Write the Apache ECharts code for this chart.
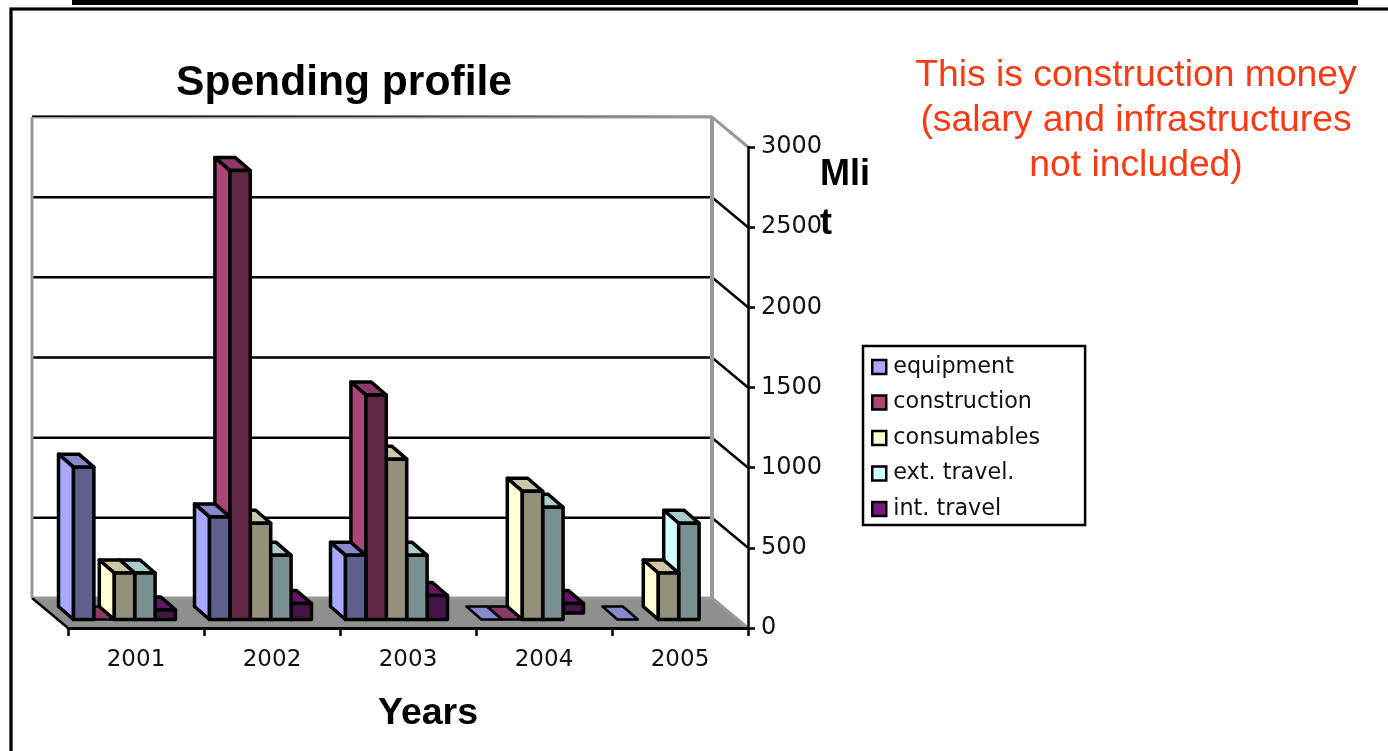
<!DOCTYPE html>
<html>
<head>
<meta charset="utf-8">
<title>Spending profile</title>
<script src="https://cdn.jsdelivr.net/npm/echarts@6/dist/echarts.min.js"></script>
<style>
	html, body { margin: 0; padding: 0; background: #fff; }
	#main { width: 1388px; height: 751px; }
</style>
</head>
<body>
<div id="main"></div>
<script>
const years = ['2001', '2002', '2003', '2004', '2005'];
const seriesNames = ['equipment', 'construction', 'consumables', 'ext. travel.', 'int. travel'];
const equipment = [950, 640, 400, 0, 0];
const construction = [0, 2800, 1400, 0, null];
const consumables = [290, 600, 1000, 800, 290];
const extTravel = [290, 400, 400, 700, 600];
const intTravel = [60, 100, 150, 100, null];
// the 2004 int. travel block floats above the floor in the picture
const intTravelBase = [0, 0, 0, 40, 0];
const yTicks = [0, 500, 1000, 1500, 2000, 2500, 3000];

const sideColors = ['#a8a8ff', '#ac4678', '#ffffd4', '#d4ffff', '#7a1a7a'];
const frontColors = ['#5e6090', '#612845', '#929078', '#7a9090', '#441448'];
const topColors = ['#8888cc', '#8a3a68', '#ccc8a8', '#a8cccc', '#661466'];

// oblique projection: wall depth and bar depth, in pixels
const wallDepth = [36, 30];
const barDepth = [15, 13];
const barInset = [11.5, 8.5];
const barShare = 0.15;

function barRender(index) {
	return function(params, api) {
		let cat = api.value(0);
		let y0 = api.coord([cat, api.value(2)])[1];
		let y1 = api.coord([cat, api.value(1)])[1];
		let band = api.size([1, 0])[0];
		let w = band * barShare;
		let x = api.coord([cat, 0])[0] - barInset[0] - 2.5 * w + index * w;
		let bottom = y0 - barInset[1];
		let top = y1 - barInset[1];
		let dx = barDepth[0], dy = barDepth[1];
		let flat = api.value(1) === 0;
		let line = { stroke: '#000', lineWidth: flat ? 2.5 : 3.5, lineJoin: 'round' };
		let z2 = flat ? 0 : 10;
		let children = [{
			type: 'polygon',
			z2: z2,
			shape: { points: [[x, top], [x + w, top], [x + w - dx, top - dy], [x - dx, top - dy]] },
			style: Object.assign({ fill: topColors[index] }, line)
		}];
		if (!flat) {
			children.push({
				type: 'polygon',
				z2: z2,
				shape: { points: [[x, top], [x - dx, top - dy], [x - dx, bottom - dy], [x, bottom]] },
				style: Object.assign({ fill: sideColors[index] }, line)
			}, {
				type: 'rect',
				z2: z2,
				shape: { x: x, y: top, width: w, height: bottom - top },
				style: Object.assign({ fill: frontColors[index] }, line)
			});
		}
		return { type: 'group', children: children };
	};
}

function barSeries(index, values, bases) {
	let data = [];
	values.forEach(function(v, i) {
		if (v !== null) data.push([i, v, bases ? bases[i] : 0]);
	});
	return {
		name: seriesNames[index],
		type: 'custom',
		z: 2,
		clip: false,
		coordinateSystem: 'cartesian2d',
		encode: { x: 0, y: 1 },
		itemStyle: { color: sideColors[index] },
		renderItem: barRender(index),
		data: data
	};
}

function frameRender(params, api) {
	let rect = params.coordSys;
	let left = rect.x, right = rect.x + rect.width;
	let dx = wallDepth[0], dy = wallDepth[1];
	let v = api.value(0);
	let y = api.coord([0, v])[1];
	let edge = (v === 0 || v === 3000);
	let color = edge ? '#999' : '#000';
	let children = [];
	if (v === 0) {
		let topY = api.coord([0, 3000])[1];
		children.push({
			type: 'polygon',
			z2: 0,
			shape: { points: [[left, y], [right, y], [right - dx, y - dy], [left - dx, y - dy]] },
			style: { fill: '#8f8f8f' }
		}, {
			type: 'polyline',
			z2: 2,
			shape: { points: [[left, y], [left - dx, y - dy]] },
			style: { stroke: '#000', lineWidth: 2.5, fill: null }
		}, {
			type: 'polyline',
			z2: 2,
			shape: { points: [[left - dx, y - dy], [left - dx, topY - dy]] },
			style: { stroke: '#999', lineWidth: 3, fill: null }
		}, {
			type: 'polyline',
			z2: 2,
			shape: { points: [[right - dx, y - dy], [right - dx, topY - dy]] },
			style: { stroke: '#999', lineWidth: 4, fill: null }
		});
	}
	children.push({
		type: 'polyline',
		z2: 1,
		shape: { points: [[left - dx, y - dy], [right - dx, y - dy], [right, y]] },
		style: { stroke: color, lineWidth: edge ? 3 : 2.5, fill: null }
	});
	if (v === 3000) {
		// dark rim along the wall top, fading out to the right
		children.push({
			type: 'rect',
			z2: 2,
			shape: { x: left - dx, y: y - dy - 1.5, width: right - left, height: 1.5 },
			style: {
				fill: new echarts.graphic.LinearGradient(0, 0, 1, 0, [
					{ offset: 0, color: '#000' },
					{ offset: 0.5, color: '#333' },
					{ offset: 1, color: '#999' }
				])
			}
		});
	}
	return { type: 'group', children: children };
}

let myChart = echarts.init(document.getElementById('main'));
let option = {
	animation: false,
	backgroundColor: '#fff',
	textStyle: { fontFamily: 'DejaVu Sans' },
	title: [{
		text: 'Spending profile',
		left: 339,
		top: 78,
		textAlign: 'center',
		textVerticalAlign: 'middle',
		textStyle: { fontFamily: 'Liberation Sans', fontSize: 42.6, fontWeight: 'bold', color: '#000' }
	}, {
		text: 'Years',
		left: 423,
		top: 709,
		textAlign: 'center',
		textVerticalAlign: 'middle',
		textStyle: { fontFamily: 'Liberation Sans', fontSize: 37.5, fontWeight: 'bold', color: '#000' }
	}, {
		text: 'Mli\nt',
		left: 815,
		top: 146,
		textStyle: { fontFamily: 'Liberation Sans', fontSize: 36, fontWeight: 'bold', color: '#000', lineHeight: 49 }
	}, {
		text: 'This is construction money\n(salary and infrastructures\nnot included)',
		left: 1131,
		top: 116,
		textAlign: 'center',
		textVerticalAlign: 'middle',
		textStyle: { fontFamily: 'Liberation Sans', fontSize: 37.3, fontWeight: 'normal', color: '#f93a12', lineHeight: 45, align: 'center' }
	}],
	legend: {
		data: seriesNames,
		orient: 'vertical',
		left: 863,
		top: 346,
		backgroundColor: '#fff',
		borderColor: '#000',
		borderWidth: 2.5,
		padding: [10, 45, 5, 8],
		itemGap: 13.5,
		itemWidth: 14,
		itemHeight: 14,
		icon: 'rect',
		itemStyle: { borderColor: '#000', borderWidth: 2.5 },
		textStyle: { fontFamily: 'DejaVu Sans', fontSize: 22.3, color: '#111', padding: [0, 0, 0, 2], height: 22, lineHeight: 22 },
		selectedMode: false
	},
	grid: { left: 68, top: 147, width: 680, height: 481 },
	xAxis: {
		type: 'category',
		data: years,
		z: 5,
		axisLine: { lineStyle: { color: '#000', width: 3 } },
		axisTick: { show: true, length: 8, lineStyle: { color: '#000', width: 2.5 } },
		axisLabel: { interval: 0, margin: 21, fontFamily: 'DejaVu Sans', fontSize: 23, color: '#111' },
		splitLine: { show: false }
	},
	yAxis: {
		type: 'value',
		position: 'right',
		min: 0,
		max: 3000,
		interval: 500,
		z: 5,
		axisLine: { show: true, lineStyle: { color: '#000', width: 2.5 } },
		axisTick: { show: true, length: 7, lineStyle: { color: '#000', width: 2.5 } },
		axisLabel: {
			margin: 13,
			padding: [8, 0, 0, 0],
			fontFamily: 'DejaVu Sans',
			fontSize: 24,
			color: '#111',
			formatter: function(v) { return String(v); }
		},
		splitLine: { show: false }
	},
	graphic: [{
		type: 'rect',
		z: 0,
		silent: true,
		shape: { x: 72, y: -4, width: 1286, height: 9 },
		style: { fill: '#000' }
	}, {
		type: 'rect',
		z: 0,
		silent: true,
		shape: { x: 11, y: 9, width: 1390, height: 760 },
		style: { fill: 'none', stroke: '#000', lineWidth: 3, shadowColor: '#999', shadowBlur: 1 }
	}],
	series: [{
		name: 'frame',
		type: 'custom',
		z: 1,
		clip: false,
		coordinateSystem: 'cartesian2d',
		encode: { y: 0 },
		renderItem: frameRender,
		data: yTicks.map(function(t) { return [t]; })
	},
		barSeries(4, intTravel, intTravelBase),
		barSeries(3, extTravel),
		barSeries(2, consumables),
		barSeries(1, construction),
		barSeries(0, equipment)
	]
};
myChart.setOption(option);
</script>
</body>
</html>
